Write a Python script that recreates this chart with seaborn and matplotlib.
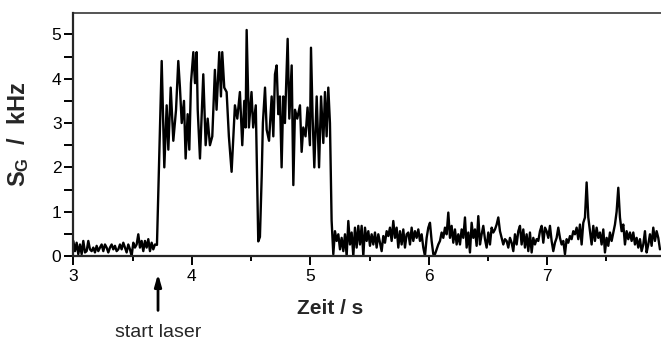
import numpy as np
import pandas as pd
import matplotlib
matplotlib.use("Agg")
import matplotlib.pyplot as plt
import seaborn as sns

# ---------------- data ----------------
dt = 0.014065                 # sampling step of the baseline parts (s)
t_pre_start = 3.0
values_pre = [0.34, 0.11, 0.3, 0.04, 0.26, 0.04, 0.34, 0.08, 0.11, 0.34,
              0.15, 0.11, 0.19, 0.08, 0.23, 0.11, 0.19, 0.26, 0.11, 0.26,
              0.19, 0.08, 0.19, 0.26, 0.15, 0.23, 0.11, 0.15, 0.26, 0.15,
              0.3, 0.19, 0.08, 0.26, 0.15, 0.0, 0.3, 0.19, 0.26, 0.49,
              0.19, 0.34, 0.11, 0.34, 0.19, 0.38, 0.11, 0.3, 0.15, 0.26]

t_high = [3.706, 3.746, 3.768, 3.788, 3.802, 3.822, 3.844, 3.867, 3.886, 3.900,
          3.915, 3.934, 3.948, 3.965, 3.979, 3.993, 4.013, 4.027, 4.041, 4.050,
          4.069, 4.097, 4.117, 4.134, 4.153, 4.173, 4.195, 4.209, 4.232, 4.246,
          4.257, 4.274, 4.294, 4.313, 4.336, 4.364, 4.384, 4.406, 4.426, 4.443,
          4.454, 4.463, 4.482, 4.504, 4.518, 4.540, 4.561, 4.575, 4.590, 4.600,
          4.618, 4.632, 4.652, 4.674, 4.688, 4.702, 4.716, 4.730, 4.744, 4.758,
          4.772, 4.786, 4.809, 4.823, 4.843, 4.857, 4.871, 4.890, 4.913, 4.927,
          4.941, 4.960, 4.977, 4.997, 5.006, 5.020, 5.034, 5.054, 5.074, 5.091,
          5.110, 5.124, 5.138, 5.152, 5.166, 5.180]
v_high = [0.25, 4.4, 2.0, 3.4, 2.4, 3.8, 2.6, 3.3, 4.4, 3.8,
          3.0, 3.5, 2.2, 3.2, 2.4, 3.9, 4.6, 3.9, 4.6, 3.3,
          2.2, 4.1, 2.5, 3.1, 2.5, 2.7, 4.2, 3.3, 4.6, 3.6,
          4.6, 3.8, 3.7, 2.7, 1.9, 3.4, 3.1, 3.7, 2.5, 3.5,
          2.9, 5.1, 2.9, 3.7, 2.9, 3.4, 0.33, 0.43, 1.8, 3.0,
          3.8, 2.85, 2.6, 3.6, 2.7, 4.1, 4.3, 3.2, 3.6, 2.0,
          3.6, 3.0, 4.9, 3.1, 4.3, 1.6, 3.3, 3.1, 3.4, 2.35,
          2.9, 2.7, 3.35, 2.5, 4.7, 3.1, 2.0, 3.6, 2.0, 3.6,
          2.55, 3.7, 2.7, 3.8, 3.0, 0.8]

t_post_start = 5.1944
values_post = [0.04, 0.56, 0.34, 0.49, 0.15, 0.41, 0.11, 0.49, 0.0, 0.79,
               0.26, 0.53, 0.0, 0.64, 0.19, 0.68, 0.26, 0.68, 0.0, 0.64,
               0.34, 0.56, 0.23, 0.49, 0.26, 0.53, 0.19, 0.49, 0.3, 0.11,
               0.45, 0.3, 0.56, 0.45, 0.64, 0.34, 0.79, 0.41, 0.64, 0.19,
               0.56, 0.26, 0.6, 0.19, 0.49, 0.53, 0.26, 0.64, 0.34, 0.56,
               0.41, 0.6, 0.34, 0.49, 0.19, 0.0, 0.41, 0.64, 0.75, 0.34,
               0.04,
               0.04, 0.15, 0.26, 0.34, 0.53, 0.41, 0.64, 0.49, 0.98, 0.41,
               0.68, 0.3, 0.6, 0.26, 0.49, 0.26, 0.6, 0.41, 0.87, 0.19,
               0.53, 0.08, 0.75, 0.41, 0.6, 0.23, 0.9, 0.26, 0.49, 0.68,
               0.38, 0.19, 0.53, 0.26, 0.64, 0.53, 0.6, 0.71, 0.87, 0.56,
               0.41, 0.26, 0.38, 0.34, 0.19, 0.41, 0.3, 0.11, 0.49, 0.26,
               0.56, 0.68, 0.26, 0.6, 0.19, 0.49, 0.11, 0.53, 0.08, 0.41,
               0.26, 0.38, 0.34, 0.56, 0.68, 0.3,
               0.64, 0.56, 0.41, 0.68, 0.34, 0.11, 0.3, 0.41, 0.64, 0.41,
               0.26, 0.34, 0.04, 0.38, 0.3, 0.45, 0.38, 0.56, 0.49, 0.64,
               0.38, 0.71, 0.26, 0.75, 0.87, 1.66, 0.87, 0.56, 0.26, 0.68,
               0.34, 0.64, 0.41, 0.53, 0.26, 0.6, 0.08, 0.41, 0.23, 0.53,
               0.34, 0.53, 0.71, 1.0, 1.54, 0.87, 0.56, 0.71, 0.26, 0.56,
               0.38, 0.53, 0.34, 0.53, 0.26, 0.41, 0.19, 0.38, 0.11, 0.26,
               0.56, 0.08, 0.26, 0.49, 0.23, 0.64, 0.34, 0.56, 0.41, 0.15]

laser_start = 3.715
x_ticks = [3, 4, 5, 6, 7]
y_ticks = [0, 1, 2, 3, 4, 5]
x_label = "Zeit / s"
y_label = r"$\mathbf{S_G}$  /  kHz"
arrow_text = "start laser"

# ---------------- assemble ----------------
t_pre = t_pre_start + dt * np.arange(len(values_pre))
t_post = t_post_start + dt * np.arange(len(values_post))
df = pd.DataFrame({
    "t": np.concatenate([t_pre, t_high, t_post]),
    "v": np.concatenate([values_pre, v_high, values_post]),
})

sns.set_style("ticks")
plt.rcParams["font.family"] = ["Liberation Sans", "DejaVu Sans"]
plt.rcParams["mathtext.fontset"] = "custom"
plt.rcParams["mathtext.bf"] = "Liberation Sans:bold"
plt.rcParams["mathtext.rm"] = "Liberation Sans"

fig = plt.figure(figsize=(6.61, 3.44), dpi=100)
ax = fig.add_axes([0.1109, 0.2558, 0.8891, 0.7073])

sns.lineplot(data=df, x="t", y="v", ax=ax, color="black", linewidth=1.7,
             sort=False, estimator=None)

ax.set_xlim(3.0, 7.96)
ax.set_ylim(0, 5.49)
ax.set_xticks(x_ticks)
ax.set_xticks(np.arange(3.5, 8.0, 1.0), minor=True)
ax.set_yticks(y_ticks)
ax.set_yticks(np.arange(0.5, 5.5, 1.0), minor=True)

for s in ["left", "bottom"]:
    ax.spines[s].set_linewidth(1.6)
ax.spines["top"].set_linewidth(1.1)
ax.spines["right"].set_visible(False)

ax.tick_params(axis="both", which="both", direction="out", colors="black",
               width=1.4, labelsize=12.5)
ax.tick_params(axis="x", which="major", length=6.5, pad=3)
ax.tick_params(axis="x", which="minor", length=3.5)
ax.tick_params(axis="y", which="major", length=6.5, pad=2)
ax.tick_params(axis="y", which="minor", length=6.5)

ax.set_xlabel(x_label, fontsize=15, fontweight="bold")
ax.set_ylabel(y_label, fontsize=17, fontweight="bold")
ax.xaxis.set_label_coords(0.437, -0.175)
ax.yaxis.set_label_coords(-0.072, 0.5)

trans = ax.get_xaxis_transform()
ax.annotate("", xy=(laser_start, -0.062), xycoords=trans,
            xytext=(laser_start, -0.235), textcoords=trans,
            arrowprops=dict(arrowstyle="-|>,head_length=0.7,head_width=0.2",
                            color="black", lw=2))
ax.text(laser_start, -0.316, arrow_text, transform=trans, ha="center",
        va="center", fontsize=14)

fig.savefig("out.png", dpi=100)
